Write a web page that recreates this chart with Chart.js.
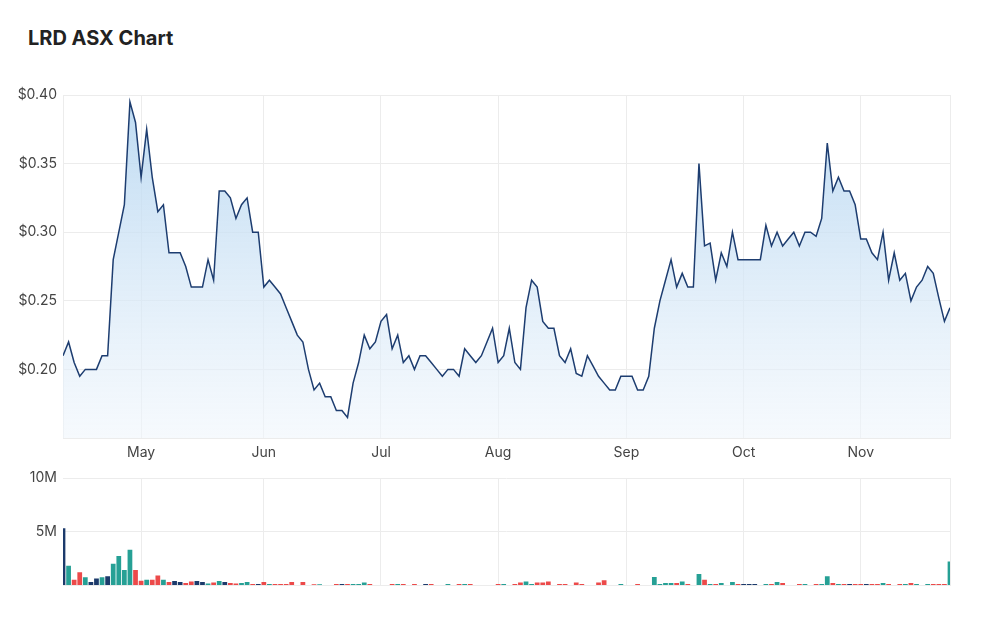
<!DOCTYPE html>
<html>
<head>
<meta charset="utf-8">
<script src="https://cdn.jsdelivr.net/npm/chart.js@4.4.1/dist/chart.umd.min.js"></script>
<style>
  html, body { margin: 0; padding: 0; background: #fff; }
  body { width: 1000px; height: 617px; position: relative; overflow: hidden; font-family: Inter, "Noto Sans", sans-serif; }
  #titulo { position: absolute; left: 28px; top: 26px; font-size: 20px; font-weight: 700; color: #222; }
  #caixaPreco { position: absolute; left: 0; top: 0; width: 1000px; height: 468px; }
  #caixaVolume { position: absolute; left: 0; top: 460px; width: 1000px; height: 140px; }
</style>
</head>
<body>
<div id="titulo">LRD ASX Chart</div>
<div id="caixaPreco"><canvas id="preco"></canvas></div>
<div id="caixaVolume"><canvas id="volume"></canvas></div>
<script>
// month ticks (index of first trading day of the month)
const monthTicks = [14, 36, 57, 78, 101, 122, 143];
const monthLabels = ['May', 'Jun', 'Jul', 'Aug', 'Sep', 'Oct', 'Nov'];

// closing price per trading day
const prices = [
    0.21, 0.22, 0.205, 0.195, 0.20, 0.20, 0.20, 0.21, 0.21, 0.28,
    0.30, 0.32, 0.395, 0.38, 0.34, 0.375, 0.34, 0.315, 0.32, 0.285,
    0.285, 0.285, 0.275, 0.26, 0.26, 0.26, 0.28, 0.265, 0.33, 0.33,
    0.325, 0.31, 0.32, 0.325, 0.30, 0.30, 0.26, 0.265, 0.26, 0.255,
    0.245, 0.235, 0.225, 0.22, 0.20, 0.185, 0.19, 0.18, 0.18, 0.17,
    0.17, 0.165, 0.19, 0.205, 0.225, 0.215, 0.22, 0.235, 0.24, 0.215,
    0.225, 0.205, 0.21, 0.20, 0.21, 0.21, 0.205, 0.20, 0.195, 0.20,
    0.20, 0.195, 0.215, 0.21, 0.205, 0.21, 0.22, 0.23, 0.205, 0.21,
    0.23, 0.205, 0.20, 0.245, 0.265, 0.26, 0.235, 0.23, 0.23, 0.21,
    0.205, 0.215, 0.197, 0.195, 0.21, 0.2025, 0.195, 0.19, 0.185, 0.185,
    0.195, 0.195, 0.195, 0.185, 0.185, 0.195, 0.23, 0.25, 0.265, 0.28,
    0.26, 0.27, 0.26, 0.26, 0.35, 0.29, 0.292, 0.265, 0.285, 0.275,
    0.30, 0.28, 0.28, 0.28, 0.28, 0.28, 0.305, 0.29, 0.30, 0.29,
    0.295, 0.30, 0.29, 0.30, 0.30, 0.297, 0.31, 0.365, 0.33, 0.34,
    0.33, 0.33, 0.32, 0.295, 0.295, 0.285, 0.28, 0.30, 0.265, 0.285,
    0.265, 0.27, 0.25, 0.26, 0.265, 0.275, 0.27, 0.252, 0.235, 0.245
];

// volume per trading day, in millions
const volumes = [
    5.34, 1.85, 0.55, 1.23, 0.77, 0.34, 0.65, 0.77, 0.86, 2.04,
    2.75, 1.45, 3.33, 1.45, 0.46, 0.55, 0.55, 0.95, 0.55, 0.34,
    0.43, 0.34, 0.25, 0.37, 0.43, 0.34, 0.19, 0.28, 0.43, 0.34,
    0.25, 0.19, 0.25, 0.34, 0.15, 0.15, 0.34, 0.15, 0.15, 0.15,
    0.15, 0.34, 0.06, 0.34, 0.06, 0.12, 0.12, 0.06, 0.06, 0.15,
    0.15, 0.15, 0.15, 0.15, 0.28, 0.15, 0.06, 0.06, 0.06, 0.15,
    0.15, 0.15, 0.06, 0.15, 0.06, 0.15, 0.15, 0.06, 0.06, 0.15,
    0.06, 0.15, 0.15, 0.15, 0.06, 0.06, 0.06, 0.06, 0.15, 0.15,
    0.06, 0.15, 0.28, 0.37, 0.15, 0.28, 0.28, 0.37, 0.06, 0.15,
    0.15, 0.06, 0.28, 0.15, 0.06, 0.06, 0.28, 0.49, 0.06, 0.06,
    0.15, 0.06, 0.06, 0.15, 0.06, 0.06, 0.80, 0.15, 0.25, 0.25,
    0.25, 0.37, 0.15, 0.06, 1.08, 0.55, 0.15, 0.15, 0.25, 0.06,
    0.34, 0.15, 0.15, 0.15, 0.15, 0.06, 0.15, 0.15, 0.34, 0.25,
    0.06, 0.06, 0.15, 0.15, 0.06, 0.15, 0.15, 0.86, 0.25, 0.15,
    0.15, 0.15, 0.15, 0.15, 0.15, 0.15, 0.15, 0.25, 0.15, 0.06,
    0.15, 0.15, 0.25, 0.15, 0.06, 0.15, 0.15, 0.15, 0.15, 2.25
];

const corLinha = '#1d3d70';
const corAlta = '#26a095';
const corBaixa = '#ec4a4a';
const corNeutra = '#1c3a6b';
const corGrade = '#ececec';

Chart.defaults.font.family = 'Inter, "Noto Sans", sans-serif';
Chart.defaults.font.size = 14;
Chart.defaults.color = '#444';
Chart.defaults.animation = false;

const ultimo = prices.length - 1;

function ticksDosMeses(scale) {
    scale.ticks = monthTicks.map(v => ({ value: v })).concat([{ value: ultimo }]);
}

function rotuloMes(value) {
    const k = monthTicks.indexOf(value);
    return k >= 0 ? monthLabels[k] : '';
}

// cor da barra de volume conforme variação do preço
const coresVolume = [];
for (var i = 0; i < volumes.length; i++) {
    if (i === 0 || prices[i] === prices[i - 1]) {
        coresVolume.push(corNeutra);
    } else if (prices[i] > prices[i - 1]) {
        coresVolume.push(corAlta);
    } else {
        coresVolume.push(corBaixa);
    }
}

// Gráfico de preço
new Chart(document.getElementById('preco'), {
    type: 'line',
    data: {
        datasets: [{
            data: prices.map((p, i) => ({ x: i, y: p })),
            borderColor: corLinha,
            borderWidth: 1.5,
            pointRadius: 0,
            tension: 0,
            fill: 'start',
            backgroundColor: function (context) {
                const area = context.chart.chartArea;
                if (!area) return 'rgba(180,215,240,0.6)';
                const g = context.chart.ctx.createLinearGradient(0, area.top, 0, area.bottom);
                g.addColorStop(0, 'rgba(178,212,240,0.85)');
                g.addColorStop(1, 'rgba(240,246,252,0.6)');
                return g;
            }
        }]
    },
    options: {
        responsive: true,
        maintainAspectRatio: false,
        layout: { padding: { top: 95, right: 50, left: 0, bottom: 0 } },
        plugins: { legend: { display: false }, tooltip: { enabled: false } },
        scales: {
            x: {
                type: 'linear',
                min: 0,
                max: ultimo,
                afterBuildTicks: ticksDosMeses,
                afterFit: scale => { scale.height = 30; },
                grid: { color: corGrade, drawTicks: false },
                border: { display: true, color: corGrade },
                ticks: { autoSkip: false, maxRotation: 0, padding: 6, callback: rotuloMes }
            },
            y: {
                min: 0.15,
                max: 0.40,
                afterFit: scale => { scale.width = 63; },
                grid: { color: corGrade, drawTicks: false },
                border: { display: true, color: corGrade },
                ticks: {
                    stepSize: 0.05,
                    padding: 6,
                    callback: v => v < 0.1501 ? '' : '$' + v.toFixed(2)
                }
            }
        }
    }
});

// Gráfico de volume
new Chart(document.getElementById('volume'), {
    type: 'bar',
    data: {
        datasets: [{
            data: volumes.map((v, i) => ({ x: i, y: v })),
            backgroundColor: coresVolume,
            barPercentage: 0.85,
            categoryPercentage: 1.0
        }]
    },
    options: {
        responsive: true,
        maintainAspectRatio: false,
        layout: { padding: { top: 18, right: 50, left: 0, bottom: 6 } },
        plugins: { legend: { display: false }, tooltip: { enabled: false } },
        scales: {
            x: {
                type: 'linear',
                min: 0,
                max: ultimo,
                offset: false,
                afterBuildTicks: ticksDosMeses,
                afterFit: scale => { scale.height = 0; },
                grid: { color: corGrade, drawTicks: false, offset: false },
                border: { display: false },
                ticks: { display: false }
            },
            y: {
                min: 0,
                max: 10,
                afterFit: scale => { scale.width = 63; },
                grid: { color: corGrade, drawTicks: false },
                border: { display: false },
                ticks: {
                    stepSize: 5,
                    padding: 6,
                    callback: v => v === 0 ? '' : v + 'M'
                }
            }
        }
    }
});
</script>
</body>
</html>
